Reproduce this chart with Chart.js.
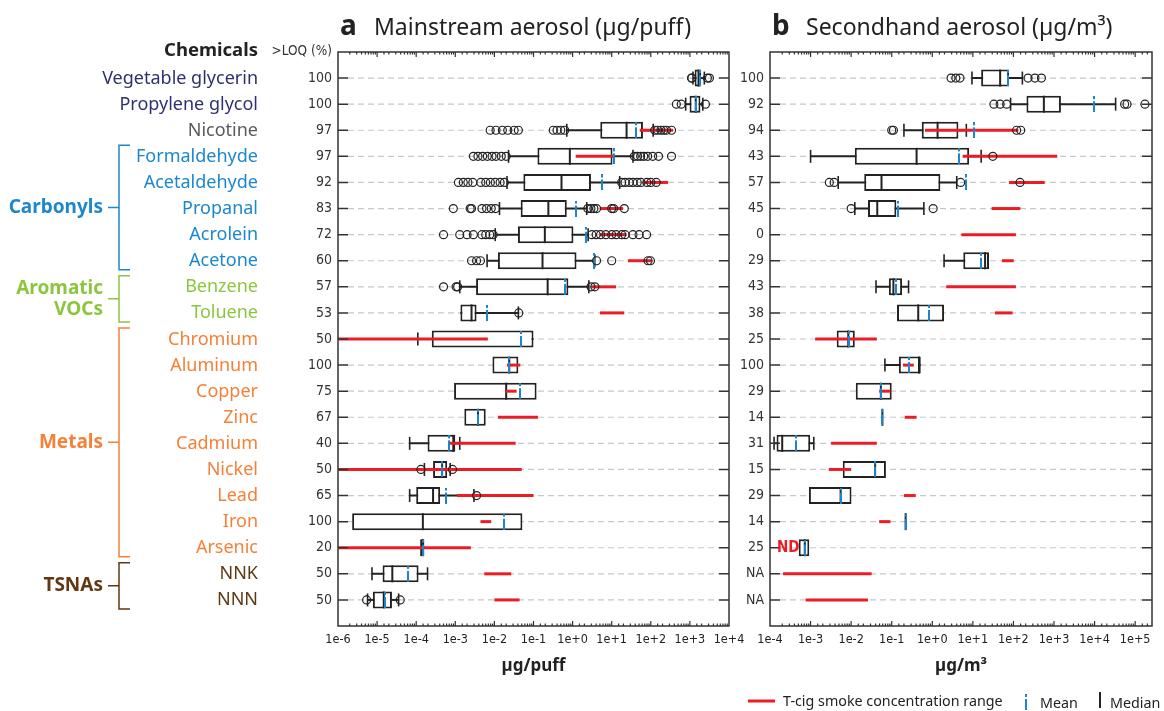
<!DOCTYPE html>
<html>
<head>
<meta charset="utf-8">
<script src="https://cdn.jsdelivr.net/npm/chart.js@4.4.1/dist/chart.umd.min.js"></script>
<style>
  html, body { margin: 0; padding: 0; background: #fff; }
  #wrap { position: relative; width: 1164px; height: 711px; overflow: hidden; }
  #boxA { position: absolute; left: 0; top: 0; width: 750px; height: 711px; }
  #boxB { position: absolute; left: 730px; top: 0; width: 434px; height: 711px; }
</style>
</head>
<body>
<div id="wrap">
  <div id="boxA"><canvas id="chartA" width="750" height="711"></canvas></div>
  <div id="boxB"><canvas id="chartB" width="434" height="711"></canvas></div>
</div>
<script>
// ---- categories ----
const chemicals = ["Vegetable glycerin", "Propylene glycol", "Nicotine", "Formaldehyde", "Acetaldehyde",
  "Propanal", "Acrolein", "Acetone", "Benzene", "Toluene", "Chromium", "Aluminum", "Copper", "Zinc",
  "Cadmium", "Nickel", "Lead", "Iron", "Arsenic", "NNK", "NNN"];
const chemClass = ["base", "base", "nicotine", "carbonyl", "carbonyl", "carbonyl", "carbonyl", "carbonyl",
  "aromatic", "aromatic", "metal", "metal", "metal", "metal", "metal", "metal", "metal", "metal", "metal",
  "tsna", "tsna"];
const groups = [
  { label: ["Carbonyls"], first: 3, last: 7, cls: "carbonyl" },
  { label: ["Aromatic", "VOCs"], first: 8, last: 9, cls: "aromatic" },
  { label: ["Metals"], first: 10, last: 18, cls: "metal" },
  { label: ["TSNAs"], first: 19, last: 20, cls: "tsna" }
];

// ---- tick labels (>LOQ %) ----
const loqMain = ["100", "100", "97", "97", "92", "83", "72", "60", "57", "53", "50", "100", "75", "67", "40", "50", "65", "100", "20", "50", "50"];
const loqSecond = ["100", "92", "94", "43", "57", "45", "0", "29", "43", "38", "25", "100", "29", "14", "31", "15", "29", "14", "25", "NA", "NA"];

// ---- axis ranges ----
const mainRange = [1e-6, 1e4];
const secondRange = [1e-4, 2.6e5];

// ---- a: mainstream aerosol (ug/puff) ----
const mainWhiskerLo = [1200, 780, 0.71, 0.023, 0.021, 0.0135, 0.0105, 0.0065, 0.0013, null, 0.00011, null, null, null, 0.000068, 0.000162, 0.000068, null, null, 0.0000074, 0.0000057];
const mainQ1 = [1320, 980, 5.1, 0.126, 0.055, 0.047, 0.04, 0.0123, 0.0034, 0.00135, 0.00025, 0.0089, 0.00093, 0.0017, 0.000195, 0.00027, 0.0001, 0.0000023, 0.000126, 0.0000138, 0.0000078];
const mainMedian = [1660, 1410, 24, 0.85, 0.52, 0.24, 0.195, 0.17, 0.23, 0.0026, null, 0.024, 0.02, 0.0038, 0.00089, 0.00046, 0.00027, 0.000148, 0.000145, 0.0000245, 0.0000148];
const mainQ3 = [1950, 1860, 63, 10.5, 2.95, 0.71, 1.05, 1.26, 0.78, 0.0035, 0.1, 0.041, 0.12, 0.006, 0.001, 0.00062, 0.00041, 0.052, 0.000162, 0.000115, 0.000024];
const mainWhiskerHi = [2340, 2140, 115, 35, 16, 2.3, 2.5, 3.7, 2.6, 0.041, null, null, null, null, 0.0013, 0.00074, 0.003, null, null, 0.000195, 0.0000355];
const mainMean = [1820, 1410, 43, 11.2, 5.5, 1.2, 2.2, 3.5, 0.63, 0.0065, 0.047, 0.024, 0.046, 0.0038, 0.0007, 0.00046, 0.00059, 0.018, 0.000145, 0.00006, 0.0000162];
const mainCigLo = [null, null, 52, 1.2, 63, 5, 5, 26, 3, 5, 0.000001, 0.021, 0.0195, 0.0123, 0.0007, 0.000001, 0.0011, 0.0044, 0.000001, 0.0055, 0.01];
const mainCigHi = [null, null, 372, 11, 275, 19.5, 24, 105, 13, 21, 0.0068, 0.046, 0.037, 0.13, 0.035, 0.05, 0.1, 0.0083, 0.0025, 0.027, 0.044];
const mainOutliers = [
  [1100, 1120, 2800, 3160],
  [450, 600, 2500],
  [0.0078, 0.011, 0.016, 0.022, 0.032, 0.041, 0.32, 0.4, 0.5, 0.63, 126, 150, 182, 214, 251, 339],
  [0.0029, 0.0038, 0.005, 0.0066, 0.0087, 0.011, 0.015, 0.02, 38, 46, 55, 66, 83, 112, 158, 339],
  [0.0012, 0.0016, 0.0021, 0.0028, 0.0045, 0.006, 0.0079, 0.0105, 0.014, 0.018, 18, 22, 28, 35, 45, 56, 79, 100, 138],
  [0.00089, 0.0024, 0.0026, 0.0048, 0.0063, 0.0083, 0.0107, 2.45, 2.95, 3.5, 4.1, 10, 11.2, 21],
  [0.0005, 0.0013, 0.002, 0.0029, 0.0048, 0.006, 0.0076, 0.0093, 3.1, 4, 5.2, 7.1, 10, 13, 18, 22, 35, 50, 78],
  [0.0026, 0.0035, 0.0044, 4.1, 10, 85, 98],
  [0.0005, 0.00105, 0.00115, 2.95, 3.7],
  [0.042],
  [], [], [], [], [],
  [0.000132, 0.00085],
  [0.0035],
  [], [], [],
  [0.0000054, 0.000039]
];

// ---- b: secondhand aerosol (ug/m3) ----
const secondWhiskerLo = [9.5, 85, 0.2, 0.001, 0.0048, 0.0123, null, 1.95, 0.041, null, null, 0.068, null, null, 0.000126, null, null, null, null, null, null];
const secondQ1 = [16, 209, 0.55, 0.0123, 0.021, 0.026, null, 5.8, 0.085, 0.135, 0.0044, 0.15, 0.013, 0.059, 0.000145, 0.0062, 0.00091, 0.22, 0.00051, null, null];
const secondMedian = [47, 562, 1.35, 0.41, 0.056, 0.044, null, 20, 0.11, 0.45, 0.0085, 0.47, 0.054, 0.059, 0.0002, 0.039, 0.0055, 0.22, 0.00072, null, null];
const secondQ3 = [78, 1480, 4.4, 8.1, 1.58, 0.13, null, 25, 0.18, 1.95, 0.0123, 0.52, 0.1, 0.059, 0.00098, 0.072, 0.0102, 0.22, 0.00093, null, null];
const secondWhiskerHi = [166, 33000, 6.9, 16, 4, 0.62, null, null, 0.26, null, null, null, null, null, 0.0012, null, null, null, null, null, null];
const secondMean = [74, 9550, 10.5, 4.6, 6.6, 0.14, null, 16, 0.126, 0.83, 0.0089, 0.27, 0.054, 0.059, 0.00044, 0.039, 0.0055, 0.22, 0.00072, null, null];
const secondCigLo = [null, null, 0.66, 5.6, 78, 29, 5.2, 52, 2.2, 35, 0.0013, 0.19, 0.049, 0.21, 0.0032, 0.0028, 0.2, 0.049, null, 0.00021, 0.00076];
const secondCigHi = [null, null, 132, 1200, 590, 148, 115, 102, 115, 95, 0.043, 0.35, 0.093, 0.41, 0.043, 0.01, 0.39, 0.093, null, 0.032, 0.026];
const secondOutliers = [
  [2.9, 3.8, 4.8, 229, 339, 490],
  [33, 47, 68, 55000, 63000, 174000],
  [0.1, 0.11, 120, 151],
  [31],
  [0.0029, 0.0038, 5, 145],
  [0.01, 1.05],
  [], [], [], [], [], [], [], [], [], [], [], [], [], [], []
];

// ---- styles ----
const classColor = {
  base: "#2d3171", nicotine: "#5a5a5c", carbonyl: "#1b88cc",
  aromatic: "#8cc63f", metal: "#f58038", tsna: "#603913"
};
const RED = "#ec1c24";
const BLUE = "#1b86cf";
const INK = "#222";
const SANS = '"Noto Sans", "Open Sans", sans-serif';
const NARROW = '"Liberation Sans Narrow", "DejaVu Sans Condensed", sans-serif';

// little "i" shaped marker used for the mean
function meanGlyph() {
  const c = document.createElement("canvas");
  c.width = 2; c.height = 16;
  const g = c.getContext("2d");
  g.fillStyle = BLUE;
  g.fillRect(0, 0, 2, 3);
  g.fillRect(0, 5, 2, 11);
  return c;
}
const meanMark = meanGlyph();

const isPow10 = v => Math.abs(Math.log10(v) - Math.round(Math.log10(v))) < 1e-6;
const logLabel = v => {
  if (!isPow10(v)) return "";
  const e = Math.round(Math.log10(v));
  return "1e" + (e < 0 ? "-" : "+") + Math.abs(e);
};

const points = arr => arr.map((v, i) => v == null ? null : { x: v, y: i }).filter(Boolean);
const spans = (lo, hi) => lo.map((v, i) => (v == null || hi[i] == null) ? null : { x: [v, hi[i]], y: i }).filter(Boolean);

function buildDatasets(p) {
  const whiskLo = p.q1.map((q, i) => p.wlo[i] != null ? p.wlo[i] : q);
  const whiskHi = p.q3.map((q, i) => p.whi[i] != null ? p.whi[i] : q);
  const hasWhisk = p.q1.map((q, i) => p.wlo[i] != null || p.whi[i] != null);
  const caps = points(p.wlo).concat(points(p.whi));
  const outs = [];
  p.outliers.forEach((row, i) => row.forEach(v => outs.push({ x: v, y: i })));
  const bar = { type: "bar", indexAxis: "y", grouped: false, borderSkipped: false, inflateAmount: 0 };
  const dot = { type: "scatter", pointHoverRadius: 0 };
  return [
    Object.assign({}, dot, { label: "outliers", data: outs, pointStyle: "circle", pointRadius: 4,
      pointBorderWidth: 1.2, pointBorderColor: INK, pointBackgroundColor: "rgba(0,0,0,0)" }),
    Object.assign({}, dot, { label: "mean", data: points(p.mean), pointStyle: meanMark, pointRadius: 8 }),
    Object.assign({}, bar, { label: "T-cig", data: spans(p.cigLo, p.cigHi), barThickness: 3,
      backgroundColor: RED, borderWidth: 0 }),
    Object.assign({}, dot, { label: "median", data: points(p.med), pointStyle: "line", pointRotation: 90,
      pointRadius: 8.5, pointBorderWidth: 2, pointBorderColor: INK }),
    Object.assign({}, dot, { label: "caps", data: caps, pointStyle: "line", pointRotation: 90,
      pointRadius: 6.5, pointBorderWidth: 1.6, pointBorderColor: INK }),
    Object.assign({}, bar, { label: "box", data: spans(p.q1, p.q3), barThickness: 17,
      backgroundColor: "#fff", borderColor: INK, borderWidth: 2 }),
    Object.assign({}, bar, { label: "whisker", data: spans(whiskLo.map((v, i) => hasWhisk[i] ? v : null), whiskHi),
      barThickness: 2, backgroundColor: INK, borderWidth: 0 })
  ];
}

function drawRowGrid(chart) {
  const { ctx, chartArea: a, scales: { y } } = chart;
  ctx.save();
  ctx.strokeStyle = "#c8c8c8";
  ctx.lineWidth = 1.2;
  ctx.setLineDash([6, 4]);
  chemicals.forEach((_, i) => {
    const py = y.getPixelForValue(i);
    ctx.beginPath();
    ctx.moveTo(a.left + 10, py);
    ctx.lineTo(a.right - 10, py);
    ctx.stroke();
  });
  ctx.restore();
}

function drawFrame(chart) {
  const { ctx, chartArea: a, scales: { x, y } } = chart;
  ctx.save();
  ctx.strokeStyle = "#333";
  ctx.lineWidth = 1.2;
  ctx.beginPath();
  x.ticks.forEach(t => {
    const px = x.getPixelForValue(t.value);
    if (px < a.left + 1 || px > a.right - 1) return;
    const len = isPow10(t.value) ? 5 : 2.5;
    ctx.moveTo(px, a.bottom); ctx.lineTo(px, a.bottom - len);
    ctx.moveTo(px, a.top); ctx.lineTo(px, a.top + len);
  });
  ctx.stroke();
  ctx.lineWidth = 1.5;
  ctx.beginPath();
  chemicals.forEach((_, i) => {
    const py = y.getPixelForValue(i);
    ctx.moveTo(a.left, py); ctx.lineTo(a.left + 10, py);
    ctx.moveTo(a.right - 10, py); ctx.lineTo(a.right, py);
  });
  ctx.stroke();
  ctx.strokeRect(a.left, a.top, a.right - a.left, a.bottom - a.top);
  ctx.restore();
}

function drawTitle(chart, letter, text, unit) {
  const { ctx, chartArea: a } = chart;
  ctx.save();
  ctx.fillStyle = INK;
  ctx.textBaseline = "alphabetic";
  ctx.textAlign = "left";
  ctx.font = "bold 28px " + SANS;
  ctx.fillText(letter, a.left + 2, 35);
  ctx.font = "23px " + SANS;
  ctx.fillText(text, a.left + 36, 35);
  ctx.textAlign = "center";
  ctx.font = "bold 17px " + SANS;
  ctx.fillText(unit, (a.left + a.right) / 2, 671);
  ctx.restore();
}

const decorA = {
  id: "decorA",
  beforeDatasetsDraw(chart) { drawRowGrid(chart); },
  afterDraw(chart) {
    drawFrame(chart);
    drawTitle(chart, "a", "Mainstream aerosol (\u00b5g/puff)", "\u00b5g/puff");
    const { ctx, chartArea: a, scales: { y } } = chart;
    ctx.save();
    // header
    ctx.textBaseline = "middle";
    ctx.textAlign = "right";
    ctx.fillStyle = INK;
    ctx.font = "bold 18.5px " + SANS;
    ctx.fillText("Chemicals", 258, 51);
    ctx.font = "13.5px " + NARROW;
    ctx.fillStyle = "#333";
    ctx.fillText(">LOQ (%)", a.left - 6, 51);
    // chemical names
    ctx.font = "18px " + SANS;
    ctx.textBaseline = "alphabetic";
    chemicals.forEach((name, i) => {
      ctx.fillStyle = classColor[chemClass[i]];
      ctx.fillText(name, 258, y.getPixelForValue(i) + 5.5);
    });
    // group brackets
    groups.forEach(g => {
      const col = classColor[g.cls];
      const top = y.getPixelForValue(g.first) - 11;
      const bot = y.getPixelForValue(g.last) + 9;
      const mid = (top + bot) / 2;
      ctx.strokeStyle = col;
      ctx.lineWidth = 1.5;
      ctx.beginPath();
      ctx.moveTo(130, top); ctx.lineTo(119, top); ctx.lineTo(119, bot); ctx.lineTo(130, bot);
      ctx.moveTo(108, mid); ctx.lineTo(119, mid);
      ctx.stroke();
      ctx.fillStyle = col;
      ctx.font = "bold 19px " + SANS;
      ctx.textBaseline = "middle";
      g.label.forEach((line, k) => {
        ctx.fillText(line, 103, mid + (k - (g.label.length - 1) / 2) * 21);
      });
    });
    ctx.restore();
  }
};

const decorB = {
  id: "decorB",
  beforeDatasetsDraw(chart) { drawRowGrid(chart); },
  afterDraw(chart) {
    drawFrame(chart);
    drawTitle(chart, "b", "Secondhand aerosol (\u00b5g/m\u00b3)", "\u00b5g/m\u00b3");
    const { ctx, chartArea: a, scales: { y } } = chart;
    ctx.save();
    // ND marker for arsenic
    ctx.fillStyle = RED;
    ctx.font = "bold 15px " + NARROW;
    ctx.textAlign = "left";
    ctx.textBaseline = "middle";
    ctx.fillText("ND", a.left + 7, y.getPixelForValue(18));
    // legend
    const ly = 701;
    ctx.fillRect(18, ly - 1.5, 27, 3);
    ctx.fillStyle = INK;
    ctx.font = "14.3px " + SANS;
    ctx.fillText("T-cig smoke concentration range", 53, ly + 1);
    ctx.drawImage(meanMark, 295, ly - 7);
    ctx.fillText("Mean", 310, ly + 3);
    ctx.fillRect(369, ly - 9, 2, 16);
    ctx.fillText("Median", 380, ly + 3);
    ctx.restore();
  }
};

function makeChart(id, p, range, loq, yWidth, rightPad, plugin) {
  return new Chart(document.getElementById(id), {
    type: "bar",
    data: { datasets: buildDatasets(p) },
    options: {
      indexAxis: "y",
      responsive: false,
      animation: false,
      events: [],
      layout: { padding: { left: 0, right: rightPad, top: 52, bottom: 0 } },
      plugins: { legend: { display: false }, tooltip: { enabled: false } },
      scales: {
        x: {
          type: "logarithmic", position: "bottom", min: range[0], max: range[1], offset: false,
          grid: { display: false, drawTicks: false }, border: { display: false },
          ticks: { autoSkip: false, maxRotation: 0, padding: 6, color: INK,
            font: { family: NARROW, size: 12.5 }, callback: logLabel },
          afterFit(s) { s.height = 85; s.paddingLeft = 0; s.paddingRight = 0; }
        },
        y: {
          type: "linear", min: -1, max: 21, reverse: true, offset: false, beginAtZero: false,
          grid: { display: false, drawTicks: false }, border: { display: false },
          ticks: { stepSize: 1, autoSkip: false, maxTicksLimit: 100, padding: 6, color: "#333",
            font: { family: NARROW, size: 14 },
            callback: v => (v >= 0 && v < loq.length) ? loq[v] : "" },
          afterFit(s) { s.width = yWidth; s.paddingTop = 0; s.paddingBottom = 0; }
        }
      }
    },
    plugins: [plugin]
  });
}

makeChart("chartA", {
  wlo: mainWhiskerLo, q1: mainQ1, med: mainMedian, q3: mainQ3, whi: mainWhiskerHi,
  mean: mainMean, cigLo: mainCigLo, cigHi: mainCigHi, outliers: mainOutliers
}, mainRange, loqMain, 338, 21, decorA);

makeChart("chartB", {
  wlo: secondWhiskerLo, q1: secondQ1, med: secondMedian, q3: secondQ3, whi: secondWhiskerHi,
  mean: secondMean, cigLo: secondCigLo, cigHi: secondCigHi, outliers: secondOutliers
}, secondRange, loqSecond, 40, 12, decorB);
</script>
</body>
</html>
